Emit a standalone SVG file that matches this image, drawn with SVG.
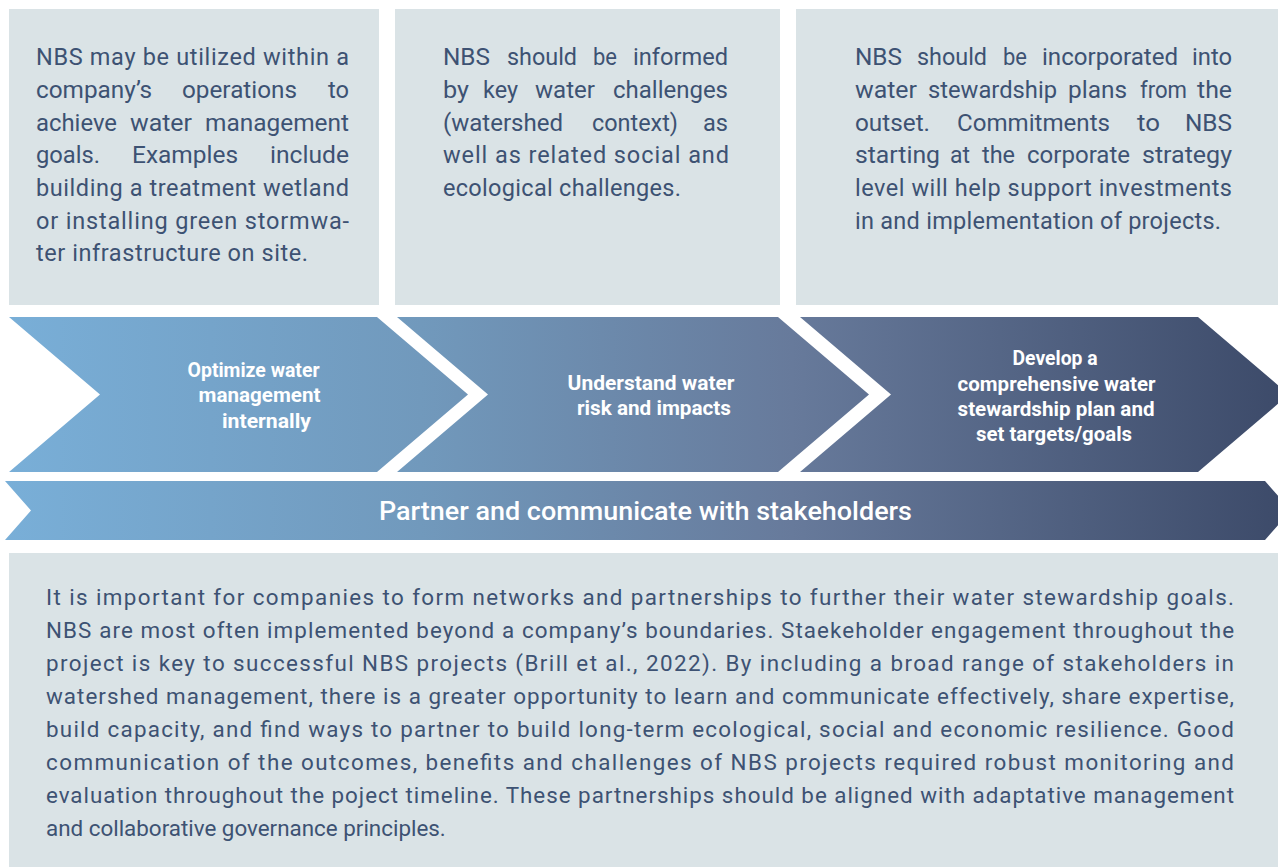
<svg xmlns="http://www.w3.org/2000/svg" width="1278" height="867" viewBox="0 0 1278 867">
  <defs>
    <linearGradient id="flow" gradientUnits="userSpaceOnUse" x1="0" y1="0" x2="1278" y2="0">
      <stop offset="0" stop-color="#79afd8"/>
      <stop offset="0.33" stop-color="#7199bc"/>
      <stop offset="0.62" stop-color="#677a9b"/>
      <stop offset="1" stop-color="#3d4b6a"/>
    </linearGradient>
    <style>
      .panel { fill: #dae3e6; }
      .body { font-family: Roboto, "Liberation Sans", sans-serif; font-size: 23.5px; fill: #3d5273; }
      .long { font-size: 22.4px; }
      .step { fill: url(#flow); }
      .label { font-family: Roboto, "Liberation Sans", sans-serif; font-size: 19.5px; font-weight: 700; fill: #ffffff; text-anchor: middle; }
      .banner { font-family: Roboto, "Liberation Sans", sans-serif; font-size: 25px; font-weight: 500; fill: #ffffff; text-anchor: middle; }
    </style>
  </defs>

  <rect width="1278" height="867" fill="#ffffff"/>

  <!-- Description panels (justified: words placed one by one) -->
  <g id="panel-operations">
    <rect class="panel" x="9" y="9" width="370" height="296"/>
    <text class="body">
      <tspan x="36" y="65" textLength="313" lengthAdjust="spacing">NBS may be utilized within a</tspan>
      <tspan x="36" y="98" textLength="116" lengthAdjust="spacingAndGlyphs">company’s</tspan><tspan x="182" y="98" textLength="115" lengthAdjust="spacingAndGlyphs">operations</tspan><tspan x="328" y="98" textLength="21" lengthAdjust="spacingAndGlyphs">to</tspan>
      <tspan x="36" y="131" textLength="81" lengthAdjust="spacingAndGlyphs">achieve</tspan><tspan x="130" y="131" textLength="62" lengthAdjust="spacingAndGlyphs">water</tspan><tspan x="205" y="131" textLength="144" lengthAdjust="spacingAndGlyphs">management</tspan>
      <tspan x="36" y="163" textLength="64" lengthAdjust="spacingAndGlyphs">goals.</tspan><tspan x="132" y="163" textLength="106" lengthAdjust="spacingAndGlyphs">Examples</tspan><tspan x="270" y="163" textLength="79" lengthAdjust="spacingAndGlyphs">include</tspan>
      <tspan x="36" y="196" textLength="313" lengthAdjust="spacing">building a treatment wetland</tspan>
      <tspan x="36" y="229" textLength="313" lengthAdjust="spacing">or installing green stormwa-</tspan>
      <tspan x="36" y="261" textLength="272" lengthAdjust="spacing">ter infrastructure on site.</tspan>
    </text>
  </g>

  <g id="panel-risk">
    <rect class="panel" x="395" y="9" width="385" height="296"/>
    <text class="body">
      <tspan x="443" y="65" textLength="47" lengthAdjust="spacingAndGlyphs">NBS</tspan><tspan x="507" y="65" textLength="70" lengthAdjust="spacingAndGlyphs">should</tspan><tspan x="593" y="65" textLength="24" lengthAdjust="spacingAndGlyphs">be</tspan><tspan x="633" y="65" textLength="95" lengthAdjust="spacingAndGlyphs">informed</tspan>
      <tspan x="443" y="98" textLength="26" lengthAdjust="spacingAndGlyphs">by</tspan><tspan x="483" y="98" textLength="35" lengthAdjust="spacingAndGlyphs">key</tspan><tspan x="535" y="98" textLength="60" lengthAdjust="spacingAndGlyphs">water</tspan><tspan x="613" y="98" textLength="115" lengthAdjust="spacingAndGlyphs">challenges</tspan>
      <tspan x="443" y="131" textLength="120" lengthAdjust="spacingAndGlyphs">(watershed</tspan><tspan x="592" y="131" textLength="86" lengthAdjust="spacingAndGlyphs">context)</tspan><tspan x="703" y="131" textLength="25" lengthAdjust="spacingAndGlyphs">as</tspan>
      <tspan x="443" y="163" textLength="286" lengthAdjust="spacing">well as related social and</tspan>
      <tspan x="443" y="196" textLength="238" lengthAdjust="spacing">ecological challenges.</tspan>
    </text>
  </g>

  <g id="panel-plan">
    <rect class="panel" x="796" y="9" width="482" height="296"/>
    <text class="body">
      <tspan x="855" y="65" textLength="47" lengthAdjust="spacingAndGlyphs">NBS</tspan><tspan x="917" y="65" textLength="70" lengthAdjust="spacingAndGlyphs">should</tspan><tspan x="1003" y="65" textLength="24" lengthAdjust="spacingAndGlyphs">be</tspan><tspan x="1042" y="65" textLength="136" lengthAdjust="spacingAndGlyphs">incorporated</tspan><tspan x="1192" y="65" textLength="40" lengthAdjust="spacingAndGlyphs">into</tspan>
      <tspan x="855" y="98" textLength="62" lengthAdjust="spacingAndGlyphs">water</tspan><tspan x="928" y="98" textLength="129" lengthAdjust="spacingAndGlyphs">stewardship</tspan><tspan x="1068" y="98" textLength="59" lengthAdjust="spacingAndGlyphs">plans</tspan><tspan x="1140" y="98" textLength="47" lengthAdjust="spacingAndGlyphs">from</tspan><tspan x="1197" y="98" textLength="35" lengthAdjust="spacingAndGlyphs">the</tspan>
      <tspan x="855" y="131" textLength="75" lengthAdjust="spacingAndGlyphs">outset.</tspan><tspan x="957" y="131" textLength="153" lengthAdjust="spacingAndGlyphs">Commitments</tspan><tspan x="1137" y="131" textLength="23" lengthAdjust="spacingAndGlyphs">to</tspan><tspan x="1185" y="131" textLength="47" lengthAdjust="spacingAndGlyphs">NBS</tspan>
      <tspan x="855" y="163" textLength="85" lengthAdjust="spacingAndGlyphs">starting</tspan><tspan x="950" y="163" textLength="20" lengthAdjust="spacingAndGlyphs">at</tspan><tspan x="982" y="163" textLength="33" lengthAdjust="spacingAndGlyphs">the</tspan><tspan x="1027" y="163" textLength="103" lengthAdjust="spacingAndGlyphs">corporate</tspan><tspan x="1142" y="163" textLength="90" lengthAdjust="spacingAndGlyphs">strategy</tspan>
      <tspan x="855" y="196" textLength="377" lengthAdjust="spacing">level will help support investments</tspan>
      <tspan x="855" y="229" textLength="366" lengthAdjust="spacing">in and implementation of projects.</tspan>
    </text>
  </g>

  <!-- Process chevrons -->
  <g id="step-optimize">
    <path class="step" d="M9,317 L377,317 L468,394.5 L377,472 L9,472 L100,394.5 Z"/>
    <text class="label">
      <tspan x="256" y="377" textLength="132" lengthAdjust="spacingAndGlyphs">Optimize water</tspan>
      <tspan x="262" y="402" textLength="122" lengthAdjust="spacingAndGlyphs">management</tspan>
      <tspan x="266.5" y="428" textLength="89" lengthAdjust="spacingAndGlyphs">internally</tspan>
    </text>
  </g>

  <g id="step-understand">
    <path class="step" d="M397,317 L778,317 L869,394.5 L778,472 L397,472 L488,394.5 Z"/>
    <text class="label">
      <tspan x="653.5" y="390" textLength="167" lengthAdjust="spacingAndGlyphs">Understand water</tspan>
      <tspan x="654" y="415" textLength="154" lengthAdjust="spacingAndGlyphs">risk and impacts</tspan>
    </text>
  </g>

  <g id="step-develop">
    <path class="step" d="M800,317 L1198,317 L1289,394.5 L1198,472 L800,472 L891,394.5 Z"/>
    <text class="label">
      <tspan x="1057.5" y="365" textLength="85" lengthAdjust="spacingAndGlyphs">Develop a</tspan>
      <tspan x="1059" y="391" textLength="198" lengthAdjust="spacingAndGlyphs">comprehensive water</tspan>
      <tspan x="1058.5" y="416" textLength="197" lengthAdjust="spacingAndGlyphs">stewardship plan and</tspan>
      <tspan x="1054" y="441" textLength="156" lengthAdjust="spacingAndGlyphs">set targets/goals</tspan>
    </text>
  </g>

  <!-- Cross-cutting banner -->
  <g id="banner-partner">
    <path class="step" d="M5,481 L1265,481 L1291,510.5 L1265,540 L5,540 L31,510.5 Z"/>
    <text class="banner" x="645.5" y="520" textLength="533" lengthAdjust="spacingAndGlyphs">Partner and communicate with stakeholders</text>
  </g>

  <!-- Partnership description -->
  <g id="panel-partnership">
    <rect class="panel" x="9" y="553" width="1269" height="314"/>
    <text class="body long">
      <tspan x="46" y="605" textLength="1188" lengthAdjust="spacing">It is important for companies to form networks and partnerships to further their water stewardship goals.</tspan>
      <tspan x="46" y="638" textLength="1188" lengthAdjust="spacing">NBS are most often implemented beyond a company’s boundaries. Staekeholder engagement throughout the</tspan>
      <tspan x="46" y="671" textLength="1188" lengthAdjust="spacing">project is key to successful NBS projects (Brill et al., 2022). By including a broad range of stakeholders in</tspan>
      <tspan x="46" y="704" textLength="1188" lengthAdjust="spacing">watershed management, there is a greater opportunity to learn and communicate effectively, share expertise,</tspan>
      <tspan x="46" y="737" textLength="1188" lengthAdjust="spacing">build capacity, and find ways to partner to build long-term ecological, social and economic resilience. Good</tspan>
      <tspan x="46" y="770" textLength="1188" lengthAdjust="spacing">communication of the outcomes, benefits and challenges of NBS projects required robust monitoring and</tspan>
      <tspan x="46" y="803" textLength="1188" lengthAdjust="spacing">evaluation throughout the poject timeline. These partnerships should be aligned with adaptative management</tspan>
      <tspan x="46" y="836">and collaborative governance principles.</tspan>
    </text>
  </g>
</svg>
